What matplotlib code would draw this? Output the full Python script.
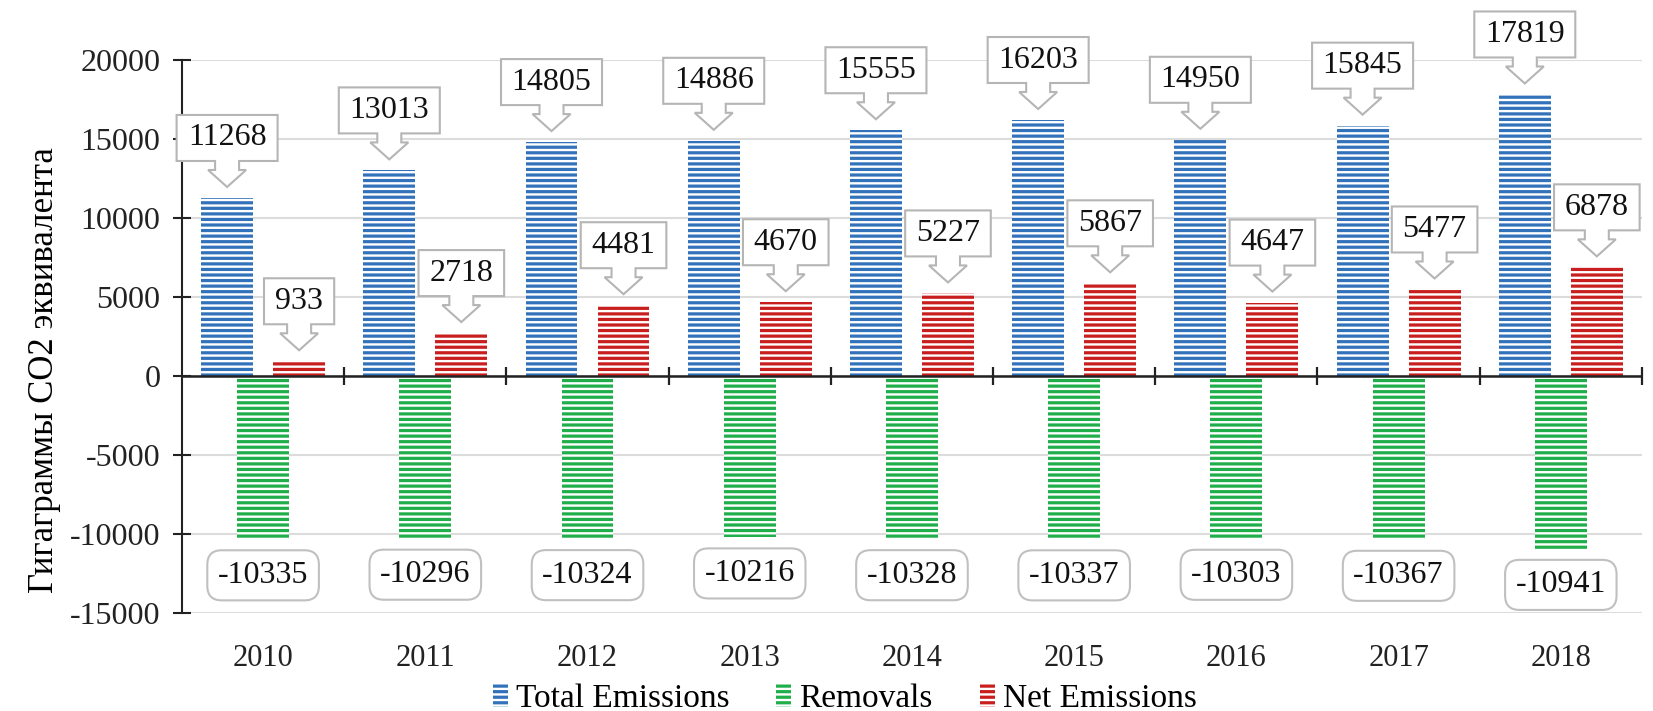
import matplotlib
matplotlib.use("Agg")
import matplotlib.pyplot as plt
import matplotlib.transforms as mtransforms
from matplotlib.patches import Polygon, Patch
import numpy as np

plt.rcParams['font.family'] = ['Liberation Serif', 'DejaVu Serif']
plt.rcParams['hatch.linewidth'] = 2.3
plt.rcParams['axes.unicode_minus'] = False

years = ['2010', '2011', '2012', '2013', '2014', '2015', '2016', '2017', '2018']
total_emissions = [11268, 13013, 14805, 14886, 15555, 16203, 14950, 15845, 17819]
removals = [-10335, -10296, -10324, -10216, -10328, -10337, -10303, -10367, -10941]
net_emissions = [933, 2718, 4481, 4670, 5227, 5867, 4647, 5477, 6878]
series_names = ['Total Emissions', 'Removals', 'Net Emissions']
ylabel = 'Гигаграммы CO2 эквивалента'

c_blue = '#3272ba'
c_green = '#1fae4a'
c_red = '#c81e1e'
axis_col = '#222222'

fig = plt.figure(figsize=(16.53, 7.11), dpi=100)
ax = fig.add_axes([0.1101, 0.1378, 0.8832, 0.7778])

x = np.arange(len(years))
w = 0.32
off = 0.222
kw = dict(facecolor='white', linewidth=0, hatch='---', zorder=3)
ax.bar(x - off, total_emissions, w, edgecolor=c_blue, **kw)
ax.bar(x, removals, w, edgecolor=c_green, **kw)
ax.bar(x + off, net_emissions, w, edgecolor=c_red, **kw)

ax.set_xlim(-0.5, len(years) - 0.5)
ax.set_ylim(-15000, 20000)
ax.set_yticks(np.arange(-15000, 20001, 5000))
ax.yaxis.grid(True, color='#dcdcdc', linewidth=1.5)
ax.set_axisbelow(True)
ax.tick_params(axis='y', direction='inout', length=13, width=1.5, labelsize=23, pad=9, colors=axis_col)
ax.set_xticks(x)
ax.set_xticklabels(years)
ax.tick_params(axis='x', length=0, labelsize=22, pad=22, colors=axis_col)
for s in ['top', 'right', 'bottom']:
    ax.spines[s].set_visible(False)
ax.spines['left'].set_linewidth(1.5)
ax.spines['left'].set_color(axis_col)
ax.set_ylabel(ylabel, fontsize=25)
ax.yaxis.set_label_coords(-0.083, 0.44)

# zero line with category-boundary ticks
ax.axhline(0, color=axis_col, linewidth=1.8, zorder=4)
boundaries = np.arange(len(years)) + 0.5
ax.plot(boundaries, np.zeros_like(boundaries), linestyle='none', marker='|',
        markersize=13, markeredgewidth=1.6, color=axis_col, zorder=4, clip_on=False)


def down_callout(xc, val):
    label = str(val)
    n = len(label)
    bw = 15.4 * n + 24
    g, hh, sh, bh = 11, 17, 9, 46
    hw, sw = 19, 12
    verts = [(0, g), (-hw, g + hh), (-sw, g + hh), (-sw, g + hh + sh),
             (-bw / 2, g + hh + sh), (-bw / 2, g + hh + sh + bh),
             (bw / 2, g + hh + sh + bh), (bw / 2, g + hh + sh),
             (sw, g + hh + sh), (sw, g + hh), (hw, g + hh)]
    tr = mtransforms.Affine2D() + mtransforms.ScaledTranslation(xc, val, ax.transData)
    poly = Polygon(verts, closed=True, transform=tr, facecolor='white',
                   edgecolor='#b5b5b5', linewidth=1.5, zorder=5, clip_on=False)
    ax.add_patch(poly)
    ax.annotate(label, xy=(xc, val), xytext=(0, (g + hh + sh + bh / 2) * 0.72),
                textcoords='offset points', ha='center', va='center',
                fontsize=23, color='#111111', zorder=6)


for xi, v in zip(x, total_emissions):
    down_callout(xi - off, v)
for xi, v in zip(x, net_emissions):
    down_callout(xi + off, v)
for xi, v in zip(x, removals):
    ax.annotate(str(v), xy=(xi, v), xytext=(0, -36 * 0.72), textcoords='offset points',
                ha='center', va='center', fontsize=23, color='#111111', zorder=6,
                bbox=dict(boxstyle='round,pad=0.33,rounding_size=0.45', fc='white',
                          ec='#c0c0c0', lw=1.5))

handles = [Patch(facecolor='white', edgecolor=c, hatch='---', linewidth=0)
           for c in (c_blue, c_green, c_red)]
fig.legend(handles, series_names, loc='center', bbox_to_anchor=(0.511, 0.018),
           ncol=3, frameon=False, fontsize=24, handlelength=0.45, handleheight=0.75,
           handletextpad=0.25, columnspacing=1.4)

fig.savefig('out.png', dpi=100)
